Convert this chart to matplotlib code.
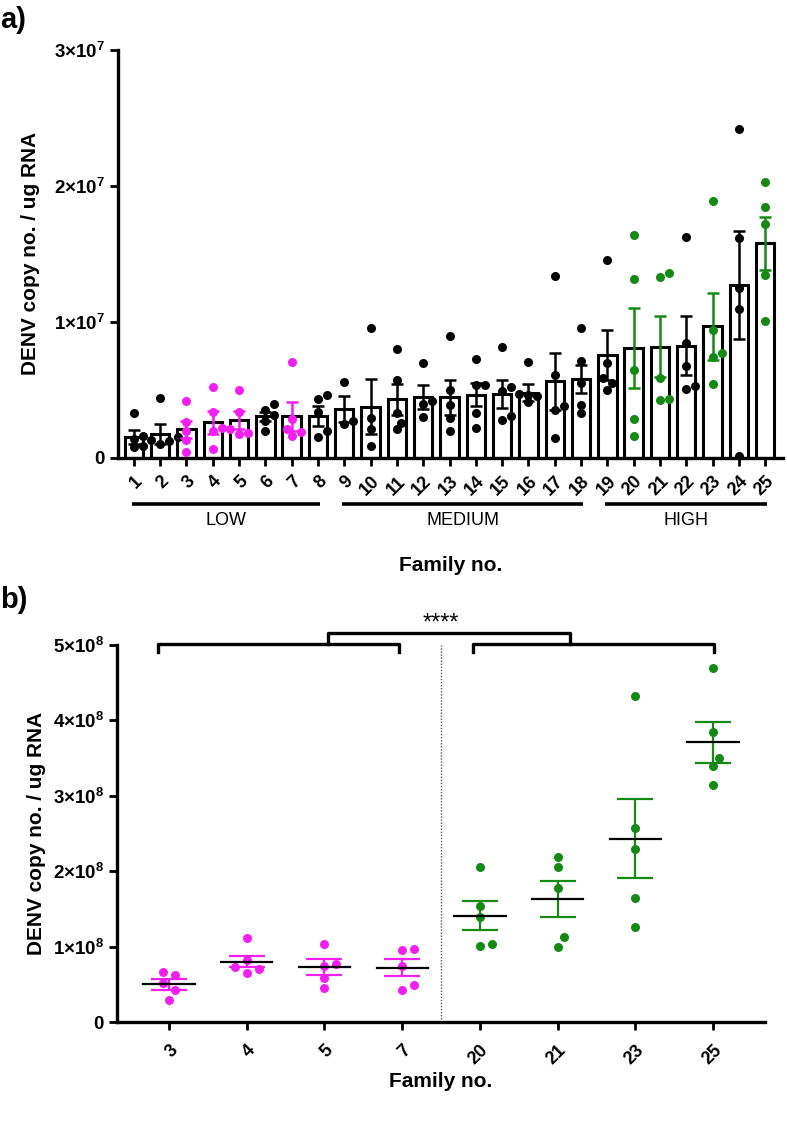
import numpy as np
import matplotlib
matplotlib.use("Agg")
import matplotlib.pyplot as plt

plt.rcParams['font.family'] = ['Liberation Sans', 'DejaVu Sans']
plt.rcParams['mathtext.fontset'] = 'custom'
plt.rcParams['mathtext.rm'] = 'Liberation Sans'
plt.rcParams['mathtext.bf'] = 'Liberation Sans:bold'

# ---- panel a data (copies / ug RNA, in units of 1e6) ----
fam_a = list(range(1, 26))
a_means = [1.55, 1.74, 2.1, 2.6, 2.77, 3.04, 3.04, 3.09, 3.58, 3.77, 4.31, 4.46, 4.46,
           4.63, 4.7, 4.8, 5.61, 5.81, 7.57, 8.07, 8.18, 8.24, 9.66, 12.72, 15.79]
a_sem = [0.51, 0.74, 0.64, 0.83, 0.66, 0.34, 1.06, 0.73, 0.98, 2.02, 1.13, 0.86, 1.28,
         0.85, 1.04, 0.64, 2.13, 1.03, 1.84, 2.91, 2.21, 2.15, 2.44, 3.97, 1.95]
a_points = [
    [3.3, 1.6, 1.4, 0.9, 0.8],
    [4.4, 1.5, 1.3, 1.2, 1.0],
    [4.2, 2.6, 2.0, 1.3, 0.46],
    [5.17, 3.33, 2.18, 1.94, 0.64],
    [5.0, 3.33, 2.1, 1.8, 1.76],
    [3.97, 3.53, 3.16, 2.74, 2.0],
    [7.06, 2.84, 2.1, 1.86, 1.62],
    [4.63, 4.3, 3.4, 1.94, 1.52],
    [5.56, 2.74, 2.5],
    [9.58, 2.92, 2.1, 0.83],
    [7.99, 5.74, 3.28, 2.55, 2.1],
    [7.0, 4.14, 3.97, 2.97],
    [8.97, 4.95, 3.9, 2.89, 1.94],
    [7.3, 5.37, 5.37, 3.28, 2.18],
    [8.11, 5.2, 4.88, 3.04, 2.79],
    [7.06, 4.71, 4.63, 4.51, 4.07],
    [13.4, 6.1, 3.82, 3.53, 1.45],
    [9.58, 7.13, 5.49, 3.9, 3.28],
    [14.56, 6.96, 5.86, 5.49, 5.0],
    [16.4, 13.14, 6.42, 2.87, 1.62],
    [13.58, 13.28, 5.86, 4.31, 4.26],
    [16.27, 8.43, 6.76, 5.25, 5.05],
    [18.9, 9.36, 7.7, 7.4, 5.44],
    [24.2, 16.15, 12.48, 10.96, 0.15],
    [20.27, 18.43, 17.18, 13.46, 10.07],
]
low_fams = [3, 4, 5, 7]
high_fams = [20, 21, 23, 25]
groups = [("LOW", 1, 8), ("MEDIUM", 9, 18), ("HIGH", 19, 25)]

# ---- panel b data (units of 1e8) ----
fam_b = ["3", "4", "5", "7", "20", "21", "23", "25"]
b_means = [0.50, 0.80, 0.73, 0.72, 1.41, 1.63, 2.43, 3.71]
b_sem = [0.07, 0.075, 0.10, 0.115, 0.19, 0.24, 0.525, 0.27]
b_points = [
    [0.62, 0.67, 0.52, 0.42, 0.29],
    [1.12, 0.82, 0.73, 0.70, 0.65],
    [1.04, 0.77, 0.74, 0.59, 0.45],
    [0.95, 0.97, 0.74, 0.49, 0.42],
    [2.05, 1.54, 1.39, 1.03, 1.01],
    [2.19, 2.05, 1.78, 1.13, 1.00],
    [4.32, 2.58, 2.30, 1.65, 1.26],
    [4.70, 3.84, 3.50, 3.39, 3.14],
]
sig_label = "****"

MAGENTA = "#f21ff0"
GREEN = "#148a14"


def swarm(vals, ax, step_px, min_px):
    # simple beeswarm: offsets in data-x units so dots do not sit on top of each other
    p0 = ax.transData.transform([0, 0])
    p1 = ax.transData.transform([1, 1])
    sx, sy = p1[0] - p0[0], p1[1] - p0[1]
    placed = []
    offs = np.zeros(len(vals))
    for i in np.argsort(vals):
        y = vals[i] * sy
        for k in [0, 1, -1, 2, -2, 3, -3, 4, -4]:
            x = k * step_px
            if all(np.hypot(x - px, y - py) >= min_px for px, py in placed):
                break
        placed.append((x, y))
        offs[i] = x / sx
    return offs


def sci_fmt(v, exp):
    if v == 0:
        return r"$\mathbf{0}$"
    return r"$\mathbf{%d{\times}10^{%d}}$" % (round(v / 10 ** exp), exp)


fig = plt.figure(figsize=(7.87, 11.22), dpi=100)

# ================= panel a =================
ax = fig.add_axes([0.150, 0.592, 0.845, 0.3636])
ax.set_xlim(0.4, 25.68)
ax.set_ylim(0, 30)

for f, m, s, pts in zip(fam_a, a_means, a_sem, a_points):
    col = MAGENTA if f in low_fams else GREEN if f in high_fams else "black"
    ax.bar(f, m, width=0.7, facecolor="white", edgecolor="black", linewidth=2.2, zorder=2)
    offs = swarm(pts, ax, 4.5, 7.5)
    ax.plot(f + offs, pts, "o", color=col, markersize=6.5, markeredgewidth=0, zorder=3)
    ax.errorbar(f, m, yerr=s, color=col, capsize=4, capthick=1.8, elinewidth=1.8, zorder=4)

yt = [0, 10, 20, 30]
ax.set_yticks(yt)
ax.set_yticklabels([sci_fmt(v * 1e6, 7) for v in yt], fontsize=13.5)
ax.set_xticks(fam_a)
ax.set_xticklabels([str(f) for f in fam_a], rotation=45, ha="right", va="top",
                   rotation_mode="anchor", fontsize=13, fontweight="bold")
ax.tick_params(axis="both", width=2, length=6, pad=3)
ax.tick_params(axis="x", pad=5)
for sp in ["top", "right"]:
    ax.spines[sp].set_visible(False)
for sp in ["left", "bottom"]:
    ax.spines[sp].set_linewidth(2.4)

trans = ax.get_xaxis_transform()
for name, lo, hi in groups:
    ax.plot([lo - 0.08, hi + 0.08], [-0.113, -0.113], color="black", lw=2.6,
            transform=trans, clip_on=False, solid_capstyle="butt")
    ax.text((lo + hi) / 2, -0.153, name, transform=trans, ha="center", va="center",
            fontsize=13)

ax.set_xlabel("Family no.", fontsize=15, fontweight="bold")
ax.xaxis.set_label_coords(0.5, -0.24)
ax.set_ylabel("DENV copy no. / ug RNA", fontsize=15, fontweight="bold")
ax.yaxis.set_label_coords(-0.117, 0.5)
fig.text(0.0, 1 - 20 / 1122, "a)", fontsize=21, fontweight="bold", va="center")

# ================= panel b =================
bx = fig.add_axes([0.1487, 0.0891, 0.8234, 0.336])
xb = np.arange(len(fam_b))
bx.set_xlim(-0.67, 7.67)
bx.set_ylim(0, 5)

for i, (m, s, pts) in enumerate(zip(b_means, b_sem, b_points)):
    col = MAGENTA if i < 4 else GREEN
    offs = swarm(pts, bx, 6, 10)
    bx.plot(xb[i] + offs, pts, "o", color=col, markersize=6.5, markeredgewidth=0, zorder=3)
    bx.errorbar(xb[i], m, yerr=s, color=col, capsize=13, capthick=1.6, elinewidth=1.6,
                zorder=4)
    bx.plot([xb[i] - 0.33, xb[i] + 0.33], [m, m], color="black", lw=1.6, zorder=5)

bx.axvline(3.5, ymin=0, ymax=1, color="#555555", lw=1, ls=(0, (1, 1.2)), zorder=1)

yt = [0, 1, 2, 3, 4, 5]
bx.set_yticks(yt)
bx.set_yticklabels([sci_fmt(v * 1e8, 8) for v in yt], fontsize=13.5)
bx.set_xticks(xb)
bx.set_xticklabels(fam_b, rotation=45, ha="right", va="top", rotation_mode="anchor",
                   fontsize=13, fontweight="bold")
bx.tick_params(axis="both", width=2, length=6, pad=3)
bx.tick_params(axis="x", pad=8)
for sp in ["top", "right"]:
    bx.spines[sp].set_visible(False)
for sp in ["left", "bottom"]:
    bx.spines[sp].set_linewidth(2.4)

# significance brackets
lw_br = 2.4
bx.plot([-0.14, -0.14, 2.96, 2.96], [4.91, 5.01, 5.01, 4.91], color="black", lw=lw_br,
        clip_on=False)
bx.plot([3.91, 3.91, 7.01, 7.01], [4.91, 5.01, 5.01, 4.91], color="black", lw=lw_br,
        clip_on=False)
bx.plot([2.05, 2.05, 5.16, 5.16], [5.01, 5.16, 5.16, 5.01], color="black", lw=lw_br,
        clip_on=False)
bx.text(3.5, 5.14, sig_label, ha="center", va="bottom", fontsize=17)

bx.set_xlabel("Family no.", fontsize=15, fontweight="bold")
bx.xaxis.set_label_coords(0.5, -0.133)
bx.set_ylabel("DENV copy no. / ug RNA", fontsize=15, fontweight="bold")
bx.yaxis.set_label_coords(-0.11, 0.5)
fig.text(0.0, 1 - 600 / 1122, "b)", fontsize=21, fontweight="bold", va="center")

fig.savefig("out.png", dpi=100)
